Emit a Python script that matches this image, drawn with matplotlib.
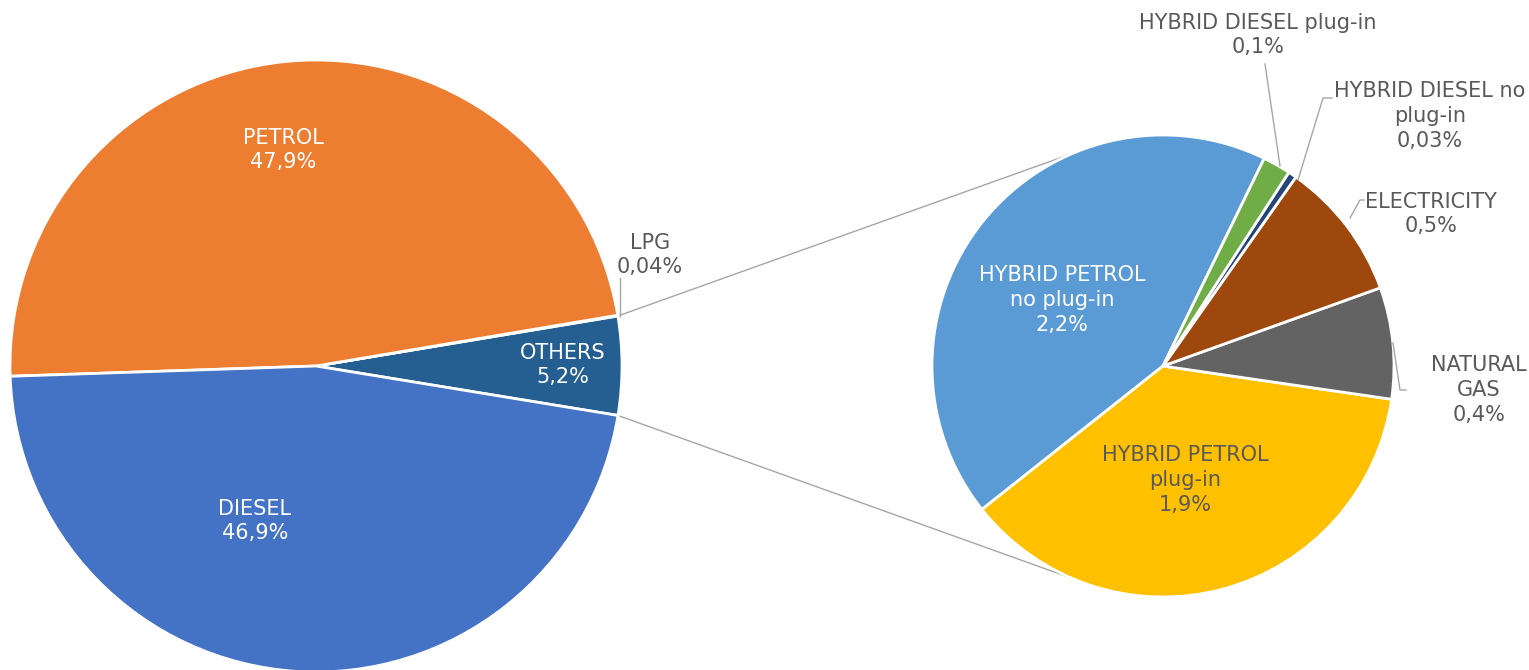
import matplotlib
matplotlib.use("Agg")
import matplotlib.pyplot as plt
import numpy as np

# ---- data ----
main_labels = ["OTHERS", "LPG", "PETROL", "DIESEL"]
main_values = [5.2, 0.04, 47.9, 46.9]
main_texts = ["5,2%", "0,04%", "47,9%", "46,9%"]
main_colors = ["#255E91", "#A5A5A5", "#ED7D31", "#4472C4"]

sub_labels = ["HYBRID PETROL\nno plug-in", "HYBRID PETROL\nplug-in", "NATURAL\nGAS",
              "ELECTRICITY", "HYBRID DIESEL no\nplug-in", "HYBRID DIESEL plug-in"]
sub_values = [2.2, 1.9, 0.4, 0.5, 0.03, 0.1]
sub_texts = ["2,2%", "1,9%", "0,4%", "0,5%", "0,03%", "0,1%"]
sub_colors = ["#5B9BD5", "#FFC000", "#636363", "#9E480E", "#264478", "#70AD47"]

W, H = 1529, 670
fig = plt.figure(figsize=(W / 100, H / 100), dpi=100)
ax = fig.add_axes([0, 0, 1, 1])

c1, r1 = (316, 304), 306
c2, r2 = (1163, 304), 231
start1, start2 = -9.3, 64

wp = dict(edgecolor="white", linewidth=2)
ax.pie(main_values, colors=main_colors, startangle=start1, counterclock=True,
       center=c1, radius=r1, wedgeprops=wp, frame=True)
ax.pie(sub_values, colors=sub_colors, startangle=start2, counterclock=True,
       center=c2, radius=r2, wedgeprops=wp, frame=True)

ax.set_xlim(0, W)
ax.set_ylim(0, H)
ax.set_aspect("equal")
ax.axis("off")

# connector lines from OTHERS slice to the secondary pie
tot1 = sum(main_values)
a_lo = start1
a_hi = start1 + main_values[0] / tot1 * 360
line_col = "#A6A6A6"
for a1, a2 in [(a_hi, 113), (a_lo, 247)]:
    p1 = (c1[0] + r1 * np.cos(np.radians(a1)), c1[1] + r1 * np.sin(np.radians(a1)))
    p2 = (c2[0] + r2 * np.cos(np.radians(a2)), c2[1] + r2 * np.sin(np.radians(a2)))
    ax.plot([p1[0], p2[0]], [p1[1], p2[1]], color=line_col, lw=1, zorder=0)

font = dict(family="DejaVu Sans", fontsize=15, ha="center", va="center",
            linespacing=1.3)
grey = "#595959"

def Y(y):
    return H - y

# main pie labels
ax.text(283, Y(150), f"{main_labels[2]}\n{main_texts[2]}", color="white", **font)
ax.text(255, Y(521), f"{main_labels[3]}\n{main_texts[3]}", color="white", **font)
ax.text(563, Y(365), f"{main_labels[0]}\n{main_texts[0]}", color="white", **font)
ax.text(650, Y(255), f"{main_labels[1]}\n{main_texts[1]}", color=grey, **font)
ax.plot([620, 620], [Y(316), Y(278)], color=line_col, lw=1)

# secondary pie labels
ax.text(1062, Y(300), f"{sub_labels[0]}\n{sub_texts[0]}", color="white", **font)
ax.text(1185, Y(480), f"{sub_labels[1]}\n{sub_texts[1]}", color=grey, **font)
ax.text(1479, Y(390), f"{sub_labels[2]}\n{sub_texts[2]}", color=grey, **font)
ax.text(1431, Y(214), f"{sub_labels[3]}\n{sub_texts[3]}", color=grey, **font)
ax.text(1430, Y(116), f"{sub_labels[4]}\n{sub_texts[4]}", color=grey, **font)
ax.text(1258, Y(35), f"{sub_labels[5]}\n{sub_texts[5]}", color=grey, **font)

# leader lines
ax.plot([1393, 1400, 1406], [Y(343), Y(390), Y(390)], color=line_col, lw=1)
ax.plot([1350, 1360, 1364], [Y(218), Y(200), Y(200)], color=line_col, lw=1)
ax.plot([1298, 1323, 1332], [Y(180), Y(98), Y(98)], color=line_col, lw=1)
ax.plot([1280, 1265], [Y(166), Y(64)], color=line_col, lw=1)

fig.savefig("out.png", dpi=100, facecolor="white")
